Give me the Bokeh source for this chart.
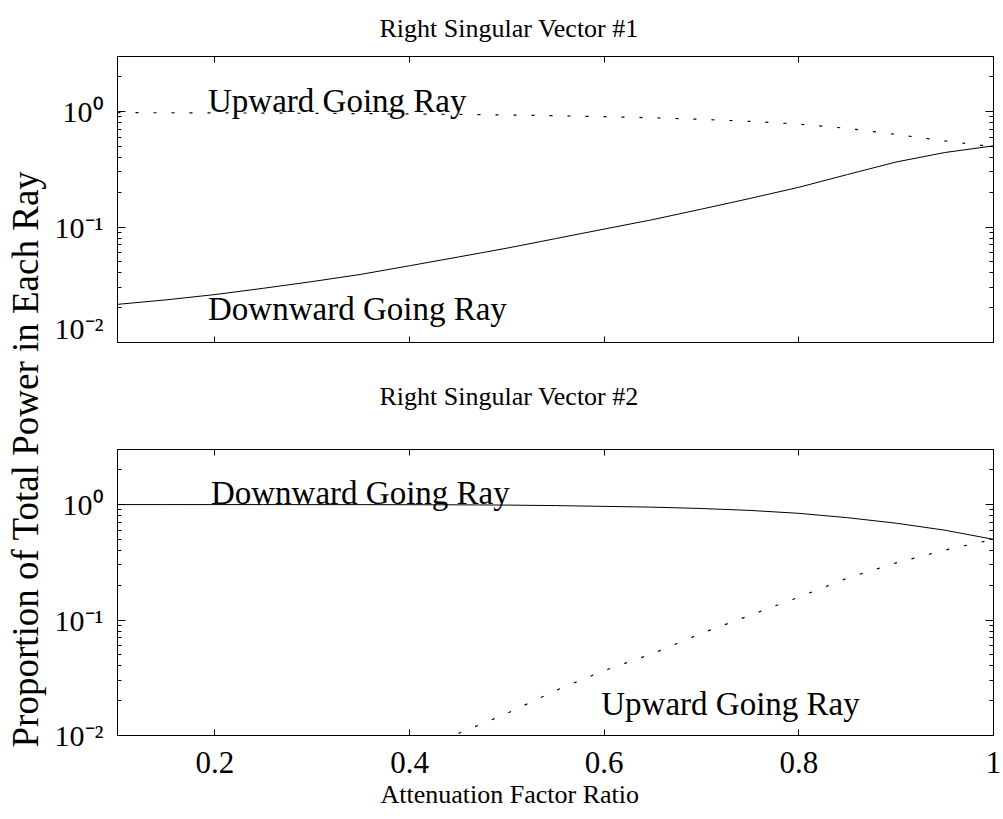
from bokeh.plotting import figure
from bokeh.layouts import row, column
from bokeh.models import LogAxis, LinearAxis, Label, Title, FixedTicker, Range1d
from bokeh.embed import file_html
from bokeh.resources import INLINE

FONT = "Liberation Serif"

# ---------------- data ----------------
x_vals = [0.10, 0.15, 0.20, 0.25, 0.30, 0.35, 0.40, 0.45, 0.50, 0.55,
          0.60, 0.65, 0.70, 0.75, 0.80, 0.85, 0.90, 0.95, 1.00]

# Right singular vector #1
sv1_down = [0.0214, 0.0234, 0.0260, 0.0295, 0.0337, 0.0389, 0.0462, 0.0550, 0.0656, 0.0794,
            0.0960, 0.116, 0.143, 0.177, 0.221, 0.285, 0.366, 0.442, 0.505]
sv1_up = [0.979, 0.977, 0.974, 0.971, 0.966, 0.961, 0.954, 0.945, 0.934, 0.921,
          0.904, 0.884, 0.857, 0.823, 0.779, 0.715, 0.634, 0.558, 0.495]

# Right singular vector #2
sv2_down = [1.0, 0.9999, 0.9998, 0.9997, 0.9995, 0.999, 0.9975, 0.995, 0.99, 0.98,
            0.965, 0.95, 0.925, 0.89, 0.84, 0.77, 0.69, 0.60, 0.50]
sv2_up_x = [0.40, 0.45, 0.50, 0.55, 0.60, 0.65, 0.70, 0.75, 0.80, 0.85, 0.90, 0.95, 1.00]
sv2_up = [0.0066, 0.0104, 0.0155, 0.0245, 0.0365, 0.0513, 0.0767, 0.110, 0.158, 0.231,
          0.313, 0.403, 0.50]

x_ticks = [0.2, 0.4, 0.6, 0.8, 1.0]
x_tick_labels = ["0.2", "0.4", "0.6", "0.8", "1"]
y_ticks = [0.01, 0.1, 1.0]
y_tick_labels = ["10\u207b\u00b2", "10\u207b\u00b9", "10\u2070"]
y_minor = [m * d for d in (0.01, 0.1, 1.0) for m in (2, 3, 4, 5, 6, 7, 8, 9)]

titles = ["Right Singular Vector #1", "Right Singular Vector #2"]
x_label = "Attenuation Factor Ratio"
y_label = "Proportion of Total Power in Each Ray"
ray_names = ["Upward Going Ray", "Downward Going Ray"]

LABEL_W = 50
PANEL_W = 1003 - LABEL_W


def style_axis(ax, is_y, show_labels, overrides):
    ax.axis_line_color = "black"
    ax.axis_line_width = 1
    ax.major_tick_line_color = "black"
    ax.minor_tick_line_color = "black"
    ax.major_tick_out = 0
    ax.minor_tick_out = 0
    ax.major_tick_in = 8 if is_y else 6
    ax.minor_tick_in = 4 if is_y else 0
    ax.major_label_text_font = FONT
    ax.major_label_text_font_size = "30px" if is_y else "31px"
    ax.major_label_text_font_style = "normal"
    ax.major_label_overrides = overrides
    if show_labels:
        ax.major_label_text_color = "black"
        ax.major_label_standoff = 14 if is_y else 16
    else:
        ax.major_label_text_color = None
        ax.major_label_standoff = 0


def make_panel(title_text, height, border_top, border_bottom, title_standoff, show_x_labels):
    p = figure(width=PANEL_W, height=height,
               x_range=Range1d(0.1, 1.0), y_range=Range1d(0.01, 3.0),
               y_axis_type="log", output_backend="svg", toolbar_location=None,
               min_border_left=117 - LABEL_W, min_border_right=10,
               min_border_top=border_top, min_border_bottom=border_bottom,
               background_fill_color="white", border_fill_color="white")
    p.xgrid.visible = False
    p.ygrid.visible = False
    p.outline_line_color = "black"
    p.outline_line_width = 1

    xt = dict(zip(x_ticks, x_tick_labels))
    yt = dict(zip(y_ticks, y_tick_labels))

    p.xaxis[0].ticker = FixedTicker(ticks=x_ticks)
    style_axis(p.xaxis[0], False, show_x_labels, xt)
    p.yaxis[0].ticker = FixedTicker(ticks=y_ticks, minor_ticks=y_minor)
    style_axis(p.yaxis[0], True, True, yt)

    top_ax = LinearAxis(ticker=FixedTicker(ticks=x_ticks))
    style_axis(top_ax, False, False, xt)
    p.add_layout(top_ax, "above")
    right_ax = LogAxis(ticker=FixedTicker(ticks=y_ticks, minor_ticks=y_minor))
    style_axis(right_ax, True, False, yt)
    p.add_layout(right_ax, "right")

    p.title.text = title_text
    p.title.text_font = FONT
    p.title.text_font_size = "26px"
    p.title.text_font_style = "normal"
    p.title.text_color = "black"
    p.title.align = "left"
    p.title.offset = 262
    p.title.vertical_align = "top"
    p.title.standoff = title_standoff
    return p


def ray_label(x, y, text):
    return Label(x=x, y=y, text=text, text_font=FONT, text_font_size="33px",
                 text_color="black", text_baseline="middle", text_align="left")


# ---------------- top panel ----------------
p1 = make_panel(titles[0], 344, 56, 2, 24, False)
p1.line(x_vals, sv1_down, line_color="black", line_width=1)
p1.line(x_vals, sv1_up, line_color="black", line_width=1.2, line_dash="3 15")
p1.add_layout(ray_label(0.193, 1.24, ray_names[0]))
p1.add_layout(ray_label(0.193, 0.0196, ray_names[1]))

# ---------------- bottom panel ----------------
p2 = make_panel(titles[1], 475, 105, 84, 74, True)
p2.line(x_vals, sv2_down, line_color="black", line_width=1)
p2.line(sv2_up_x, sv2_up, line_color="black", line_width=1.2, line_dash="3 15")
p2.add_layout(ray_label(0.196, 1.26, ray_names[1]))
p2.add_layout(ray_label(0.597, 0.0188, ray_names[0]))
p2.add_layout(Title(text=x_label, text_font=FONT, text_font_size="26px",
                    text_font_style="normal", text_color="black", align="left",
                    offset=263, vertical_align="bottom", standoff=4), "below")

# ---------------- shared y label ----------------
pl = figure(width=LABEL_W, height=819, output_backend="svg", toolbar_location=None,
            title=y_label, title_location="left", min_border=0,
            x_axis_location=None, y_axis_location=None,
            border_fill_color="white", background_fill_color="white")
pl.outline_line_color = None
pl.xgrid.visible = False
pl.ygrid.visible = False
pl.title.text_font = FONT
pl.title.text_font_size = "37px"
pl.title.text_font_style = "normal"
pl.title.text_color = "black"
pl.title.align = "left"
pl.title.offset = 72
pl.title.vertical_align = "bottom"
pl.title.standoff = 4

layout = row(pl, column(p1, p2))
open("out.html", "w").write(file_html(layout, INLINE))
